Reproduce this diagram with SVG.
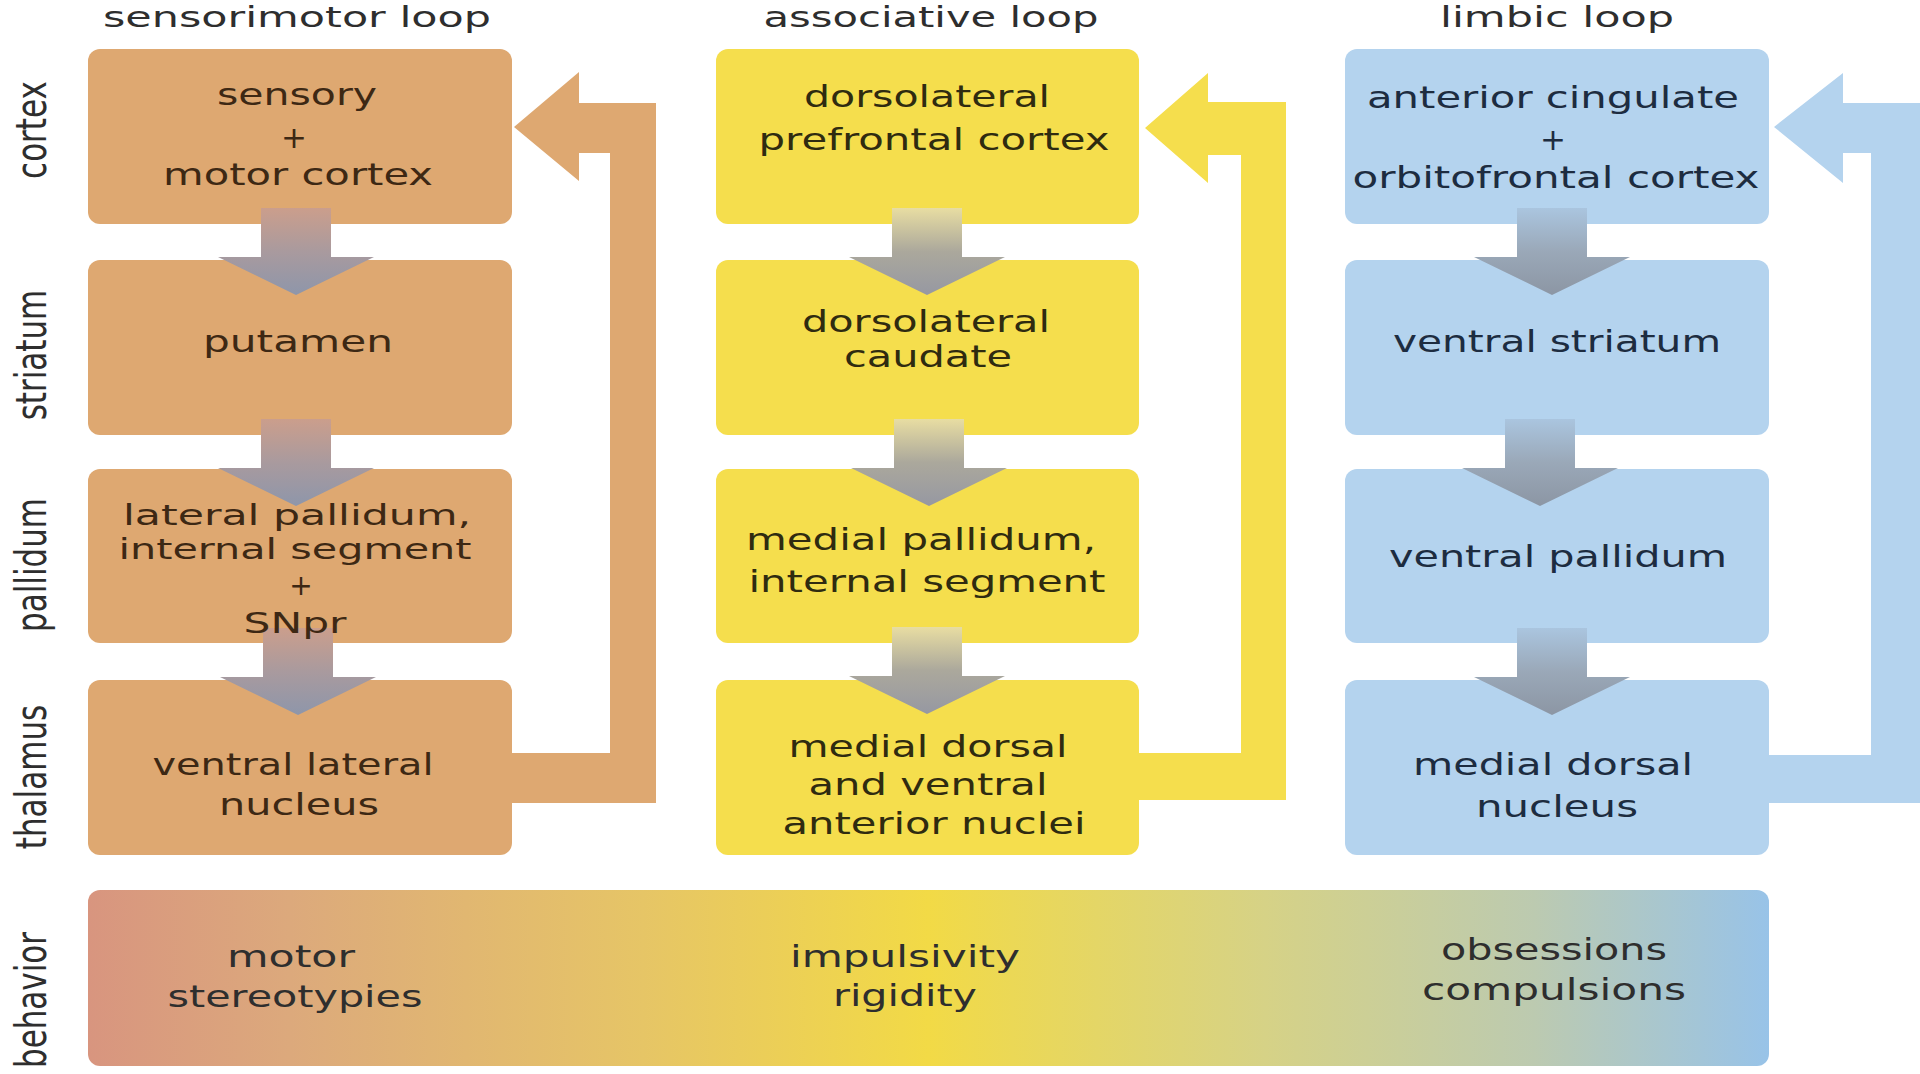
<svg xmlns="http://www.w3.org/2000/svg" width="1920" height="1074" viewBox="0 0 1920 1074">
<defs>
<style>
.t{font-family:"DejaVu Sans","Liberation Sans",sans-serif;font-size:31px;text-anchor:middle}
.s{font-size:28px}
.h{font-size:29px}
.o{fill:#3d2814}.y{fill:#2f2b10}.b{fill:#1d2c40}.k{fill:#2e2e2e}
.bo{fill:#DEA871}.by{fill:#F5DE4D}.bb{fill:#B4D3EE}
</style>
<linearGradient id="gO" x1="0" y1="0" x2="0" y2="1"><stop offset="0" stop-color="#CB9E8C"/><stop offset="0.5" stop-color="#A99A9E"/><stop offset="1" stop-color="#8E96AA"/></linearGradient>
<linearGradient id="gY" x1="0" y1="0" x2="0" y2="1"><stop offset="0" stop-color="#E8DDA2"/><stop offset="0.5" stop-color="#ABA89C"/><stop offset="1" stop-color="#9698A2"/></linearGradient>
<linearGradient id="gB" x1="0" y1="0" x2="0" y2="1"><stop offset="0" stop-color="#AAC5DF"/><stop offset="0.5" stop-color="#9AA8B8"/><stop offset="1" stop-color="#8C96A4"/></linearGradient>
<linearGradient id="gBeh" x1="0" y1="0" x2="1" y2="0">
<stop offset="0" stop-color="#D8957F"/><stop offset="0.12" stop-color="#DCA97C"/><stop offset="0.33" stop-color="#E6C566"/><stop offset="0.5" stop-color="#F2DA46"/><stop offset="0.7" stop-color="#D6D286"/><stop offset="0.86" stop-color="#BCCAB0"/><stop offset="1" stop-color="#98C3E8"/>
</linearGradient>
<path id="dArrow" d="M-35,0 H35 V49 H78 L0,87 L-78,49 H-35 Z"/>
</defs>
<rect width="1920" height="1074" fill="#ffffff"/>

<g id="headers">
<text class="t h k" x="297" y="27" textLength="388" lengthAdjust="spacingAndGlyphs">sensorimotor loop</text>
<text class="t h k" x="931" y="27" textLength="335" lengthAdjust="spacingAndGlyphs">associative loop</text>
<text class="t h k" x="1557" y="27" textLength="234" lengthAdjust="spacingAndGlyphs">limbic loop</text>
</g>

<g id="row-labels">
<text class="t k" transform="translate(46,130) rotate(-90) scale(1,1.35)">cortex</text>
<text class="t k" transform="translate(46,355) rotate(-90) scale(1,1.35)">striatum</text>
<text class="t k" transform="translate(46,565) rotate(-90) scale(1,1.35)">pallidum</text>
<text class="t k" transform="translate(46,777) rotate(-90) scale(1,1.35)">thalamus</text>
<text class="t k" transform="translate(46,1000) rotate(-90) scale(1,1.35)">behavior</text>
</g>

<g id="connectors">
<polygon class="bo" points="508,753 610,753 610,153 579,153 579,181 514,127 579,72 579,103 656,103 656,803 508,803"/>
<polygon class="by" points="1135,753 1241,753 1241,155 1208,155 1208,183 1145,128 1208,73 1208,102 1286,102 1286,800 1135,800"/>
<polygon class="bb" points="1765,755 1871,755 1871,153 1843,153 1843,183 1774,127 1843,73 1843,103 1925,103 1925,803 1765,803"/>
</g>

<g id="sensorimotor-cortex">
<rect class="bo" x="88" y="49" width="424" height="175" rx="12"/>
<text class="t o" x="297" y="105" textLength="160" lengthAdjust="spacingAndGlyphs">sensory</text>
<text class="t o" x="294" y="148">+</text>
<text class="t o" x="298" y="185" textLength="270" lengthAdjust="spacingAndGlyphs">motor cortex</text>
</g>
<g id="putamen">
<rect class="bo" x="88" y="260" width="424" height="175" rx="12"/>
<text class="t o" x="298" y="352" textLength="190" lengthAdjust="spacingAndGlyphs">putamen</text>
</g>
<g id="lateral-pallidum">
<rect class="bo" x="88" y="469" width="424" height="174" rx="12"/>
</g>
<g id="ventral-lateral-nucleus">
<rect class="bo" x="88" y="680" width="424" height="175" rx="12"/>
<text class="t o" x="293" y="775" textLength="281" lengthAdjust="spacingAndGlyphs">ventral lateral</text>
<text class="t o" x="299" y="815" textLength="160" lengthAdjust="spacingAndGlyphs">nucleus</text>
</g>

<g id="dlpfc">
<rect class="by" x="716" y="49" width="423" height="175" rx="12"/>
<text class="t y" x="927" y="107" textLength="246" lengthAdjust="spacingAndGlyphs">dorsolateral</text>
<text class="t y" x="934" y="150" textLength="351" lengthAdjust="spacingAndGlyphs">prefrontal cortex</text>
</g>
<g id="dl-caudate">
<rect class="by" x="716" y="260" width="423" height="175" rx="12"/>
</g>
<g id="medial-pallidum">
<rect class="by" x="716" y="469" width="423" height="174" rx="12"/>
</g>
<g id="md-va-nuclei">
<rect class="by" x="716" y="680" width="423" height="175" rx="12"/>
</g>

<g id="acc-ofc">
<rect class="bb" x="1345" y="49" width="424" height="175" rx="12"/>
<text class="t b" x="1553" y="108" textLength="372" lengthAdjust="spacingAndGlyphs">anterior cingulate</text>
<text class="t b" x="1553" y="150">+</text>
<text class="t b" x="1556" y="188" textLength="407" lengthAdjust="spacingAndGlyphs">orbitofrontal cortex</text>
</g>
<g id="ventral-striatum">
<rect class="bb" x="1345" y="260" width="424" height="175" rx="12"/>
<text class="t b" x="1557" y="352" textLength="328" lengthAdjust="spacingAndGlyphs">ventral striatum</text>
</g>
<g id="ventral-pallidum">
<rect class="bb" x="1345" y="469" width="424" height="174" rx="12"/>
<text class="t b" x="1558" y="567" textLength="338" lengthAdjust="spacingAndGlyphs">ventral pallidum</text>
</g>
<g id="md-nucleus">
<rect class="bb" x="1345" y="680" width="424" height="175" rx="12"/>
<text class="t b" x="1553" y="775" textLength="280" lengthAdjust="spacingAndGlyphs">medial dorsal</text>
<text class="t b" x="1557" y="817" textLength="162" lengthAdjust="spacingAndGlyphs">nucleus</text>
</g>

<g id="down-arrows">
<use href="#dArrow" x="296" y="208" fill="url(#gO)"/>
<use href="#dArrow" x="296" y="419" fill="url(#gO)"/>
<use href="#dArrow" x="298" y="628" fill="url(#gO)"/>
<use href="#dArrow" x="927" y="208" fill="url(#gY)"/>
<use href="#dArrow" x="929" y="419" fill="url(#gY)"/>
<use href="#dArrow" x="927" y="627" fill="url(#gY)"/>
<use href="#dArrow" x="1552" y="208" fill="url(#gB)"/>
<use href="#dArrow" x="1540" y="419" fill="url(#gB)"/>
<use href="#dArrow" x="1552" y="628" fill="url(#gB)"/>
</g>

<g id="arrow-overlaid-text">
<text class="t s o" x="297" y="525" textLength="348" lengthAdjust="spacingAndGlyphs">lateral  pallidum,</text>
<text class="t s o" x="295" y="559" textLength="353" lengthAdjust="spacingAndGlyphs">internal segment</text>
<text class="t s o" x="301" y="595">+</text>
<text class="t s o" x="295" y="633" textLength="103" lengthAdjust="spacingAndGlyphs">SNpr</text>
<text class="t y" x="926" y="332" textLength="248" lengthAdjust="spacingAndGlyphs">dorsolateral</text>
<text class="t y" x="928" y="367" textLength="168" lengthAdjust="spacingAndGlyphs">caudate</text>
<text class="t y" x="921" y="550" textLength="350" lengthAdjust="spacingAndGlyphs">medial pallidum,</text>
<text class="t y" x="927" y="592" textLength="357" lengthAdjust="spacingAndGlyphs">internal segment</text>
<text class="t y" x="928" y="757" textLength="279" lengthAdjust="spacingAndGlyphs">medial dorsal</text>
<text class="t y" x="928" y="795" textLength="239" lengthAdjust="spacingAndGlyphs">and ventral</text>
<text class="t y" x="934" y="834" textLength="303" lengthAdjust="spacingAndGlyphs">anterior nuclei</text>
</g>

<g id="behavior">
<rect x="88" y="890" width="1681" height="176" rx="12" fill="url(#gBeh)"/>
<text class="t k" x="291" y="967" textLength="128" lengthAdjust="spacingAndGlyphs">motor</text>
<text class="t k" x="295" y="1007" textLength="255" lengthAdjust="spacingAndGlyphs">stereotypies</text>
<text class="t k" x="905" y="967" textLength="230" lengthAdjust="spacingAndGlyphs">impulsivity</text>
<text class="t k" x="905" y="1006" textLength="144" lengthAdjust="spacingAndGlyphs">rigidity</text>
<text class="t k" x="1554" y="960" textLength="226" lengthAdjust="spacingAndGlyphs">obsessions</text>
<text class="t k" x="1554" y="1000" textLength="264" lengthAdjust="spacingAndGlyphs">compulsions</text>
</g>
</svg>
